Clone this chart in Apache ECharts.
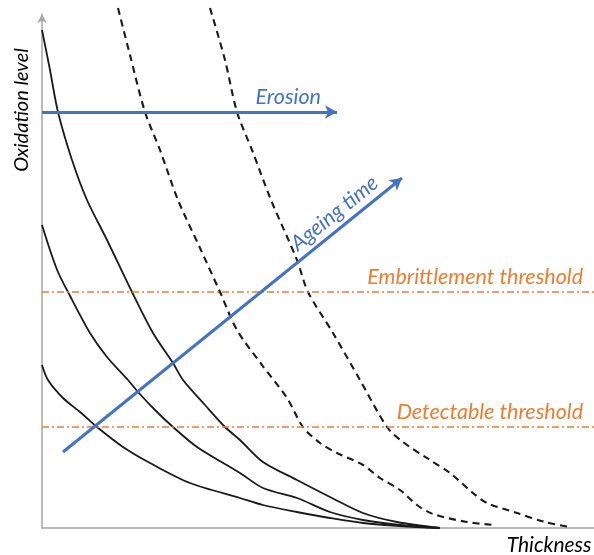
<!DOCTYPE html>
<html><head><meta charset="utf-8">
<script src="https://cdn.jsdelivr.net/npm/echarts@6/dist/echarts.min.js"></script>
<style>html,body{margin:0;padding:0;background:#fff}#c{width:594px;height:555px}</style>
</head><body><div id="c"></div>
<script>
// Arbitrary units: x = thickness, y = oxidation level
const solid1 = [[0,498],[8,458],[16,416],[30,368],[45,328],[65,288],[90,236],[111,195],[131,165],[141,148],[163,123],[183,101],[198,88],[221,66],[255,48],[288,31],[321,15],[355,6],[398,0]];
const solid2 = [[0,303],[8,278],[16,256],[26,236],[48,195],[65,171],[86,148],[96,136],[113,118],[131,101],[155,81],[198,55],[221,40],[255,30],[288,16],[321,8],[358,3],[398,0]];
const solid3 = [[0,163],[6,148],[21,130],[38,116],[55,101],[81,81],[108,65],[148,45],[198,30],[221,23],[255,16],[288,10],[321,5],[358,2],[398,0]];
const dashed1 = [[76,520],[88,473],[103,416],[118,378],[136,328],[158,280],[178,236],[195,198],[220,163],[245,130],[261,101],[278,85],[295,75],[321,63],[338,50],[358,38],[375,23],[391,14],[425,6],[453,3]];
const dashed2 = [[168,520],[183,468],[195,416],[210,378],[229,328],[255,268],[266,236],[291,195],[318,148],[345,101],[361,86],[388,68],[408,55],[431,35],[445,25],[475,15],[503,6],[528,1]];
const thresholdNames = ['Embrittlement threshold', 'Detectable threshold'];
const thresholdValues = [236, 101];
const erosionArrow = [[0,416],[295,416]];
const ageingArrow = [[21,76],[360,350]];
const xRange = [0, 552];
const yRange = [0, 514];

const FONT = 'Lato';
const BLUE = '#4472C4';
const ORANGE = '#ED7D31';
const chart = echarts.init(document.getElementById('c'));

function curve(data, dashed) {
  return {
    type: 'line', data: data, showSymbol: false, smooth: 0.3, clip: false, silent: true,
    lineStyle: {color: '#1a1a1a', width: dashed ? 2.1 : 1.8, type: dashed ? [7, 5] : 'solid'},
    emphasis: {disabled: true}
  };
}
const labelBase = {fontFamily: FONT, fontStyle: 'italic', fontSize: 21.5};

chart.setOption({
  animation: false,
  grid: {left: 42, right: 0, top: 14, bottom: 27},
  xAxis: {type: 'value', min: xRange[0], max: xRange[1],
    axisLine: {lineStyle: {color: '#a6a6a6', width: 1.5}},
    axisTick: {show: false}, axisLabel: {show: false}, splitLine: {show: false}},
  yAxis: {type: 'value', min: yRange[0], max: yRange[1],
    axisLine: {show: true, symbol: ['none', 'arrow'], symbolSize: [7, 9], lineStyle: {color: '#a6a6a6', width: 1.5}},
    axisTick: {show: false}, axisLabel: {show: false}, splitLine: {show: false}},
  series: [
    curve(solid1, false), curve(solid2, false), curve(solid3, false),
    curve(dashed1, true), curve(dashed2, true),
    {
      type: 'line', data: [], silent: true,
      markLine: {
        silent: true, symbol: 'none', animation: false,
        lineStyle: {color: ORANGE, width: 1.5, type: [7, 3, 2, 3]},
        label: Object.assign({show: true, position: 'insideEndTop', color: ORANGE, distance: [11, 4]}, labelBase),
        emphasis: {disabled: true},
        data: thresholdValues.map((v, i) => ({yAxis: v, label: {formatter: thresholdNames[i]}}))
      }
    },
    {
      type: 'line', data: [], silent: true,
      markLine: {
        silent: true, symbol: ['none', 'arrow'], symbolSize: [10, 12], animation: false,
        lineStyle: {color: BLUE, width: 3, type: 'solid'},
        label: Object.assign({show: true, position: 'insideEndTop', color: BLUE}, labelBase),
        emphasis: {disabled: true},
        data: [
          [{coord: erosionArrow[0], label: {formatter: 'Erosion', distance: [16, 4]}}, {coord: erosionArrow[1]}],
          [{coord: ageingArrow[0], label: {formatter: 'Ageing time', distance: [22, 4]}}, {coord: ageingArrow[1]}]
        ]
      }
    }
  ],
  graphic: [
    {type: 'text', x: 22, y: 110, rotation: Math.PI / 2, silent: true,
      style: {text: 'Oxidation level', align: 'center', verticalAlign: 'middle', fill: '#000',
        font: 'italic 20px ' + FONT}},
    {type: 'text', x: 549, y: 545, silent: true,
      style: {text: 'Thickness', align: 'center', verticalAlign: 'middle', fill: '#000',
        font: 'italic 21px ' + FONT}}
  ]
});
</script></body></html>
